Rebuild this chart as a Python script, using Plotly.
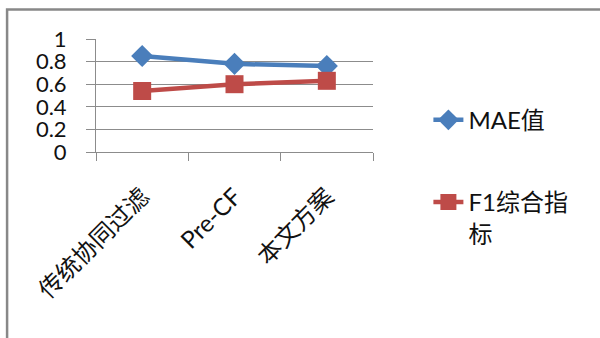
import plotly.graph_objects as go

# Data
categories = ["传统协同过滤", "Pre-CF", "本文方案"]
mae_values = [0.85, 0.78, 0.76]
f1_values = [0.54, 0.60, 0.63]
y_ticks = [0, 0.2, 0.4, 0.6, 0.8, 1]
y_tick_labels = ["0", "0.2", "0.4", "0.6", "0.8", "1"]

BLUE = "#4A7EBB"
RED = "#BE4B48"
GRID = "#8C8C8C"
FONT = "Lato, 'Noto Sans CJK SC', sans-serif"

fig = go.Figure()
fig.add_trace(go.Scatter(
    x=categories, y=mae_values, name="MAE值", mode="lines+markers",
    legendgroup="mae",
    line=dict(color=BLUE, width=4.5),
    marker=dict(symbol="diamond", size=17, color=BLUE),
))
fig.add_trace(go.Scatter(
    x=categories, y=f1_values, name="F1综合指<br>标", mode="lines+markers",
    legendgroup="f1",
    line=dict(color=RED, width=4.5),
    marker=dict(symbol="square", size=18, color=RED),
))

# Outer chart frame
fig.add_shape(type="rect", xref="paper", yref="paper",
              x0=-0.321, x1=1.85, y0=-1.75, y1=1.261,
              line=dict(color="#888888", width=2.5), layer="below")

fig.update_layout(
    width=600, height=338, autosize=False,
    margin=dict(l=96, r=227, t=39, b=186),
    paper_bgcolor="white", plot_bgcolor="white",
    font=dict(family=FONT, color="#111111"),
    showlegend=True,
    legend=dict(
        x=1.2, xanchor="left", y=0.48, yanchor="top",
        font=dict(size=24, family=FONT, color="#111111"),
        valign="top", tracegroupgap=48, maxheight=320,
        bgcolor="rgba(0,0,0,0)",
    ),
    xaxis=dict(
        type="category", range=[-0.5, 2.5],
        showgrid=False, showline=True, linecolor=GRID, linewidth=1,
        ticks="outside", tickson="boundaries", ticklen=8, tickcolor=GRID,
        tickangle=-45, tickfont=dict(size=24, family=FONT, color="#111111"),
        ticklabelstandoff=20,
    ),
    yaxis=dict(
        range=[0, 1], tickvals=y_ticks, ticktext=y_tick_labels,
        showgrid=True, gridcolor=GRID, gridwidth=1,
        showline=True, linecolor=GRID, linewidth=1,
        ticks="outside", ticklen=9, tickcolor=GRID,
        tickfont=dict(size=22, family=FONT, color="#111111"),
        zeroline=False, ticklabelstandoff=15,
    ),
)

fig.write_html("out.html")
